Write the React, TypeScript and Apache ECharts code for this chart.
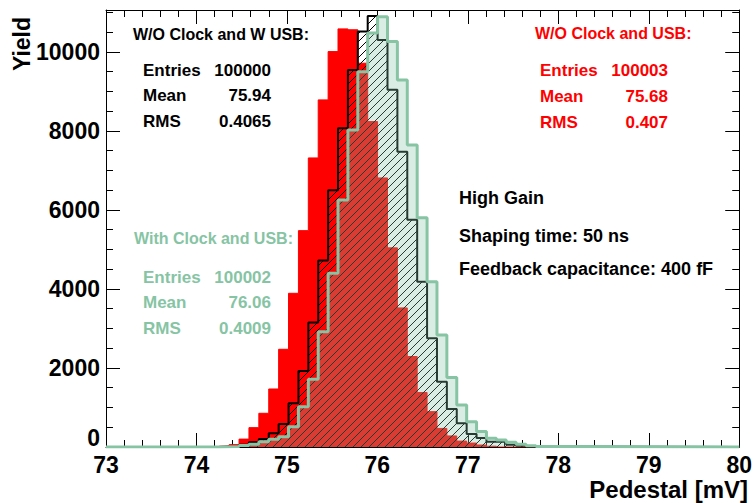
import React, { useEffect, useRef } from "react";
import * as echarts from "echarts";

// Histogram binning (mV)
const binLowEdge = 74.252;
const binWidth = 0.1094;

// Bin contents, starting at binLowEdge
const redCounts = [20, 60, 200, 490, 853, 1468, 2473, 3890, 5476, 7316, 8785, 10008, 10582, 10560, 9713, 8236, 6810, 5040, 3520, 2290, 1380, 895, 470, 280, 150, 100, 50, 20];
const blackCounts = [10, 20, 60, 120, 200, 350, 580, 1110, 1925, 3150, 4720, 6500, 8068, 9544, 10515, 10911, 10300, 9040, 7475, 5750, 4185, 2755, 1650, 960, 600, 330, 230, 135, 135, 60, 30, 10];
const greenCounts = [5, 15, 35, 70, 135, 195, 260, 515, 1020, 1713, 2920, 4397, 6250, 8025, 9500, 10480, 10890, 10260, 9290, 7645, 5800, 4185, 2835, 1760, 1063, 640, 390, 220, 180, 120, 70, 30, 10];

const xMin = 73;
const xMax = 80;
const yMax = 11060;

const statLabels = ["Entries", "Mean", "RMS"];
const blackTitle = "W/O Clock and W USB:";
const blackStats = ["100000", "75.94", "0.4065"];
const redTitle = "W/O Clock and USB:";
const redStats = ["100003", "75.68", "0.407"];
const greenTitle = "With Clock and USB:";
const greenStats = ["100002", "76.06", "0.4009"];
const notes = ["High Gain", "Shaping time: 50 ns", "Feedback capacitance: 400 fF"];

const RED = "#ff0000";
const GREEN = "#86c4a4";
const FONT = '"Liberation Sans", Arial, sans-serif';

function histPoints(counts: number[]) {
  const pts: number[][] = [[xMin, 0], [binLowEdge, 0]];
  counts.forEach((c, i) => pts.push([binLowEdge + i * binWidth, c]));
  pts.push([binLowEdge + counts.length * binWidth, 0]);
  pts.push([xMax, 0]);
  return pts;
}

function hatchPattern() {
  const c = document.createElement("canvas");
  c.width = 8;
  c.height = 8;
  const ctx = c.getContext("2d")!;
  ctx.fillStyle = "#000";
  for (let i = 0; i < 8; i++) ctx.fillRect(i, 7 - i, 1, 1);
  return c;
}

function txt(text: string, x: number, y: number, color: string, size: number, align = "left") {
  return {
    type: "text",
    x,
    y,
    style: {
      text,
      fill: color,
      font: `bold ${size}px ${FONT}`,
      align,
      verticalAlign: "middle",
    },
  };
}

function statBox(title: string, stats: string[], color: string, tx: number, ty: number, lx: number, rx: number, ys: number[]) {
  const els: any[] = [txt(title, tx, ty, color, 16)];
  statLabels.forEach((l, i) => {
    els.push(txt(l, lx, ys[i], color, 17));
    els.push(txt(stats[i], rx, ys[i], color, 17, "right"));
  });
  return els;
}

export default function App() {
  const ref = useRef<HTMLDivElement>(null);
  useEffect(() => {
    const chart = echarts.init(ref.current!, null, { renderer: "svg" });
    const tickBase = {
      inside: true,
      lineStyle: { color: "#000", width: 1 },
    };
    const labelFont = { color: "#000", fontFamily: FONT, fontWeight: "bold", fontSize: 23 };
    const option: any = {
      animation: false,
      backgroundColor: "#fff",
      grid: { left: 106, right: 7, top: 10, bottom: 56, containLabel: false },
      xAxis: [
        {
          type: "value",
          min: xMin,
          max: xMax,
          interval: 1,
          position: "bottom",
          axisLine: { show: true, onZero: false, lineStyle: { color: "#000", width: 1 } },
          axisTick: { ...tickBase, length: 14 },
          minorTick: { show: true, splitNumber: 5, length: 7, lineStyle: { color: "#000", width: 1 } },
          splitLine: { show: false },
          axisLabel: { ...labelFont, margin: 6, formatter: (v: number) => String(v) },
        },
        {
          type: "value",
          min: xMin,
          max: xMax,
          interval: 1,
          position: "top",
          axisLine: { show: true, onZero: false, lineStyle: { color: "#000", width: 1 } },
          axisTick: { ...tickBase, length: 14 },
          minorTick: { show: true, splitNumber: 5, length: 7, lineStyle: { color: "#000", width: 1 } },
          splitLine: { show: false },
          axisLabel: { show: false },
        },
      ],
      yAxis: [
        {
          type: "value",
          min: 0,
          max: yMax,
          interval: 2000,
          position: "left",
          axisLine: { show: true, onZero: false, lineStyle: { color: "#000", width: 1 } },
          axisTick: { ...tickBase, length: 14 },
          splitLine: { show: false },
          axisLabel: {
            ...labelFont,
            margin: 6,
            showMaxLabel: false,
            formatter: (v: number) => (v === 0 ? "{z|0}" : String(v)),
            rich: { z: { ...labelFont, padding: [0, 0, 18, 0] } },
          },
        },
        {
          type: "value",
          min: 0,
          max: yMax,
          interval: 500,
          position: "left",
          axisLine: { show: false },
          axisTick: { ...tickBase, length: 7 },
          splitLine: { show: false },
          axisLabel: { show: false },
        },
        {
          type: "value",
          min: 0,
          max: yMax,
          interval: 2000,
          position: "right",
          axisLine: { show: true, onZero: false, lineStyle: { color: "#000", width: 1 } },
          axisTick: { ...tickBase, length: 14 },
          splitLine: { show: false },
          axisLabel: { show: false },
        },
        {
          type: "value",
          min: 0,
          max: yMax,
          interval: 500,
          position: "right",
          axisLine: { show: false },
          axisTick: { ...tickBase, length: 7 },
          splitLine: { show: false },
          axisLabel: { show: false },
        },
      ],
      series: [
        {
          name: "W/O Clock and USB",
          type: "line",
          step: "end",
          data: histPoints(redCounts),
          symbol: "none",
          z: 2,
          lineStyle: { color: RED, width: 1 },
          areaStyle: { color: RED, opacity: 1 },
        },
        {
          name: "W/O Clock and W USB",
          type: "line",
          step: "end",
          data: histPoints(blackCounts),
          symbol: "none",
          z: 3,
          lineStyle: { color: "#000", width: 2 },
          areaStyle: { color: { image: hatchPattern(), repeat: "repeat" }, opacity: 1 },
        },
        {
          name: "With Clock and USB",
          type: "line",
          step: "end",
          data: histPoints(greenCounts),
          symbol: "none",
          z: 4,
          lineStyle: { color: GREEN, width: 3 },
          areaStyle: { color: "rgba(134,196,164,0.3)", opacity: 1 },
        },
      ],
      graphic: [
        ...statBox(blackTitle, blackStats, "#000", 133, 34, 143, 271, [70, 95, 121]),
        ...statBox(redTitle, redStats, RED, 535, 33, 540, 668, [70, 96, 122]),
        ...statBox(greenTitle, greenStats, GREEN, 134, 238, 143, 271, [277, 302, 328]),
        txt(notes[0], 459, 198, "#000", 18),
        txt(notes[1], 459, 236, "#000", 18),
        txt(notes[2], 459, 269, "#000", 18),
        {
          type: "text",
          x: 22,
          y: 44,
          rotation: Math.PI / 2,
          style: { text: "Yield", fill: "#000", font: `bold 23px ${FONT}`, align: "center", verticalAlign: "middle" },
        },
        txt("Pedestal [mV]", 748, 489, "#000", 24, "right"),
      ],
    };
    chart.setOption(option);
    return () => chart.dispose();
  }, []);
  return (
    <div
      ref={ref}
      style={{ position: "fixed", left: 0, top: 0, width: 755, height: 503, background: "#fff" }}
    />
  );
}
